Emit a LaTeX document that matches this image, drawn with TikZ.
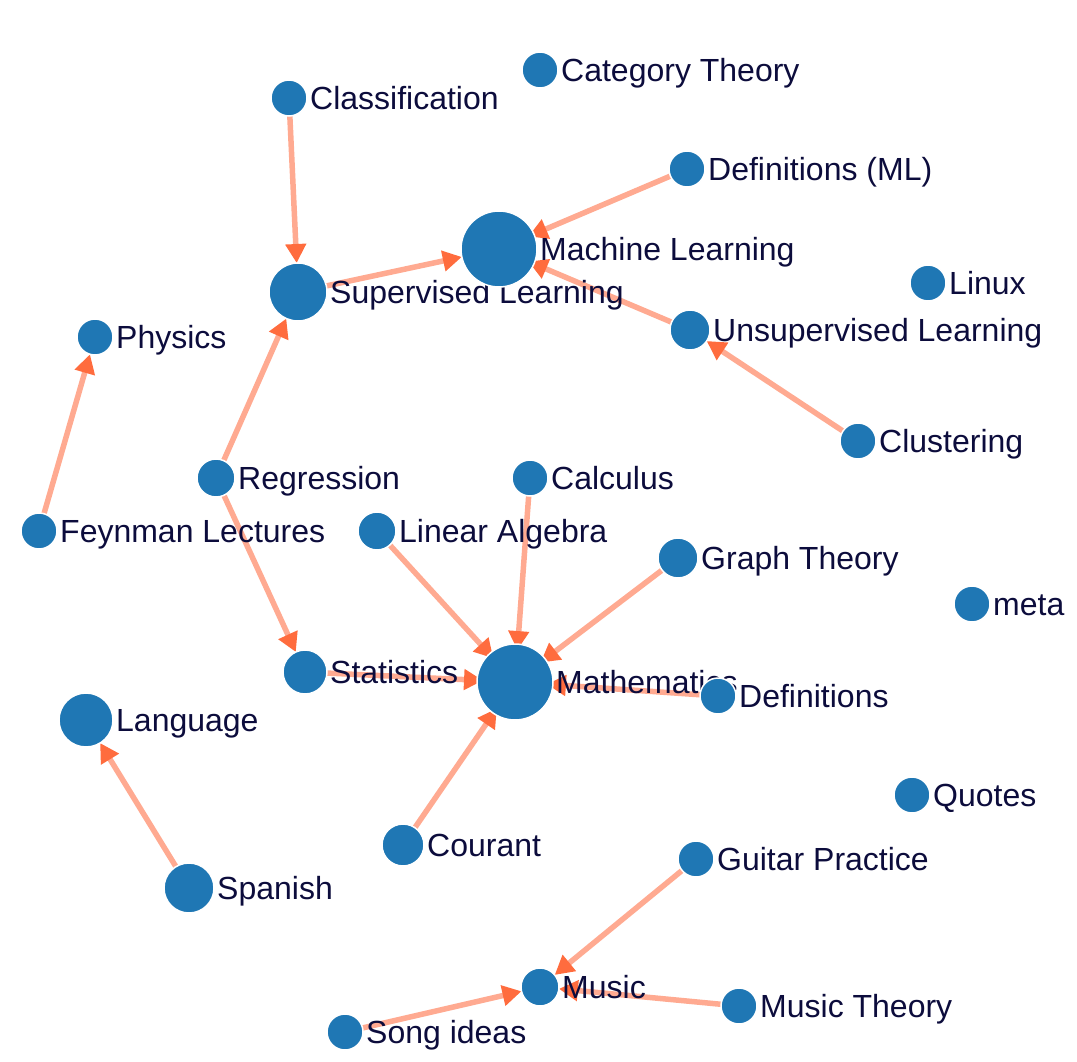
\documentclass[tikz,border=0pt]{standalone}
\usepackage{fontspec}
\setmainfont{Liberation Sans}
\usetikzlibrary{arrows.meta,backgrounds}

\definecolor{bleunoeud}{RGB}{31,119,180}
\definecolor{saumon}{RGB}{255,170,145}
\definecolor{flechec}{RGB}{255,108,62}
\definecolor{encre}{RGB}{12,12,60}

\tikzset{
  sommet/.style={circle, fill=bleunoeud, draw=white, line width=1.5pt,
    inner sep=0pt, outer sep=0pt, minimum size=#1},
  sommet/.default=36pt,
  nom/.style={label={[encre, font=\fontsize{32}{38}\selectfont, inner sep=0pt,
    text height=23pt, text depth=0pt, label distance=3pt]right:#1}},
  lienfl/.style={draw=saumon, line width=5.5pt,
    -{Triangle[length=19pt,width=20pt,color=flechec]}},
  dedans/.style={shorten >=-6pt}
}

\begin{document}
\begin{tikzpicture}[x=1pt, y=-1pt]
  \useasboundingbox (0,0) rectangle (1077,1062);

  % Sommets (apprentissage)
  \node[sommet, nom=Category Theory] (cat) at (540,70) {};
  \node[sommet, nom=Classification] (classif) at (289,98) {};
  \node[sommet, nom=Definitions (ML)] (defml) at (687,169) {};
  \node[sommet=58pt, nom=Supervised Learning] (sup) at (298,292) {};
  \node[sommet=76pt, nom=Machine Learning] (ml) at (499,249) {};
  \node[sommet, nom=Linux] (linux) at (928,283) {};
  \node[sommet, nom=Physics] (phys) at (95,337) {};
  \node[sommet=40pt, nom=Unsupervised Learning] (unsup) at (690,330) {};
  \node[sommet, nom=Clustering] (clust) at (858,441) {};
  \node[sommet=38pt, nom=Regression] (regr) at (216,478) {};

  % Sommets (mathématiques)
  \node[sommet, nom=Calculus] (calc) at (530,478) {};
  \node[sommet, nom=Feynman Lectures] (feyn) at (39,531) {};
  \node[sommet=38pt, nom=Linear Algebra] (linalg) at (377,531) {};
  \node[sommet=40pt, nom=Graph Theory] (graph) at (678,558) {};
  \node[sommet, nom=meta] (meta) at (972,604) {};
  \node[sommet=44pt, nom=Statistics] (stat) at (305,672) {};
  \node[sommet=76pt, nom=Mathematics] (math) at (515,682) {};
  \node[sommet, nom=Definitions] (defs) at (718,696) {};
  \node[sommet=54pt, nom=Language] (lang) at (86,720) {};
  \node[sommet, nom=Quotes] (quotes) at (912,795) {};
  \node[sommet=42pt, nom=Courant] (courant) at (403,845) {};

  % Sommets (musique, langues)
  \node[sommet, nom=Guitar Practice] (guitar) at (696,859) {};
  \node[sommet=50pt, nom=Spanish] (spanish) at (189,888) {};
  \node[sommet=38pt, nom=Music] (music) at (540,987) {};
  \node[sommet, nom=Music Theory] (mtheory) at (739,1006) {};
  \node[sommet, nom=Song ideas] (song) at (345,1032) {};

  % Liens (sous les sommets)
  \begin{scope}[on background layer]
    \draw[lienfl] (classif) -- (sup);
    \draw[lienfl] (sup) -- (ml);
    \draw[lienfl, dedans] (defml) -- (ml);
    \draw[lienfl, dedans] (unsup) -- (ml);
    \draw[lienfl] (clust) -- (unsup);
    \draw[lienfl] (feyn) -- (phys);
    \draw[lienfl] (regr) -- (sup);
    \draw[lienfl] (regr) -- (stat);
    \draw[lienfl, dedans] (stat) -- (math);
    \draw[lienfl, dedans] (linalg) -- (math);
    \draw[lienfl, dedans] (calc) -- (math);
    \draw[lienfl, dedans] (graph) -- (math);
    \draw[lienfl, dedans] (defs) -- (math);
    \draw[lienfl, dedans] (courant) -- (math);
    \draw[lienfl] (spanish) -- (lang);
    \draw[lienfl] (guitar) -- (music);
    \draw[lienfl] (mtheory) -- (music);
    \draw[lienfl] (song) -- (music);
  \end{scope}
\end{tikzpicture}
\end{document}
